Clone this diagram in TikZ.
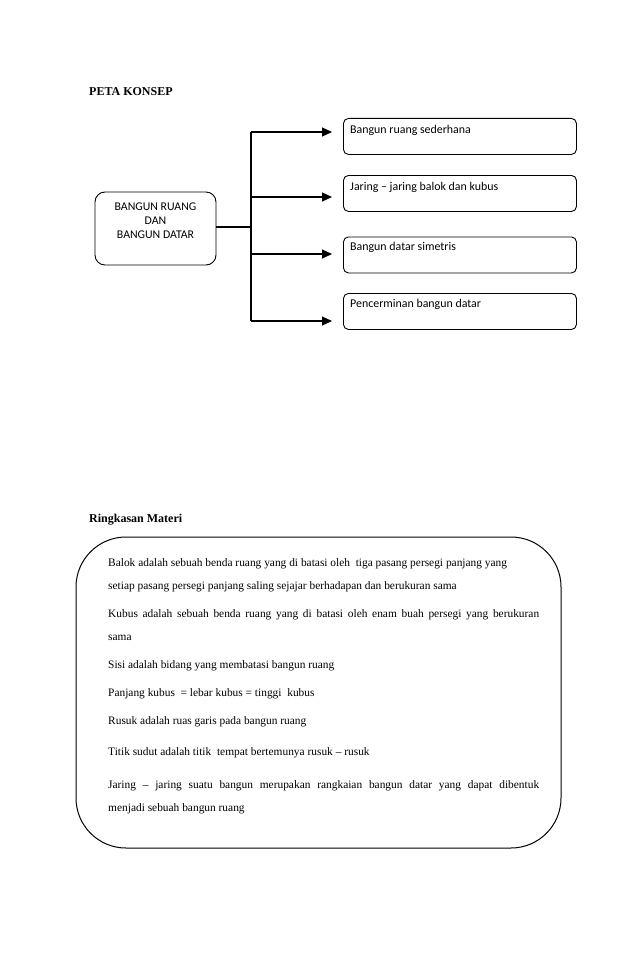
\documentclass[tikz,border=0pt]{standalone}
\usepackage{fontspec}
\setmainfont{Liberation Serif}
\newfontfamily\carlitofam{Carlito}
\usetikzlibrary{arrows.meta}
\tikzset{
  rbox/.style={draw, line width=0.9pt, rounded corners=5pt, minimum width=233pt, minimum height=36pt, inner sep=0pt},
  rtext/.style={font=\carlitofam\fontsize{11.9}{13}\selectfont, inner sep=0pt},
  conn/.style={line width=1.1pt},
  arr/.style={line width=1.1pt, -{Triangle[length=10pt,width=9pt]}},
  body/.style={font=\fontsize{11.4}{13}\selectfont, inner sep=0pt, anchor=base west},
  head/.style={font=\bfseries\fontsize{12}{14}\selectfont, inner sep=0pt, anchor=base west}
}
\newcommand{\jline}[1]{\makebox[431pt][s]{#1}}
\begin{document}
\begin{tikzpicture}[x=1pt,y=-1pt]
\useasboundingbox (0,0) rectangle (638,979);
\node[head] (h1) at (89,96) {PETA KONSEP};
% left box
\node[draw, line width=0.9pt, rounded corners=10pt, minimum width=121pt, minimum height=73pt, inner sep=0pt] (L) at (155.5,228.5) {};
\node[font=\carlitofam\fontsize{11.8}{14}\selectfont, align=center, inner sep=0pt] (Lt) at (155.5,221) {BANGUN RUANG\\DAN\\BANGUN DATAR};
% right boxes
\node[rbox, anchor=north west] (b1) at (343,118) {};
\node[rbox, anchor=north west] (b2) at (343,175) {};
\node[rbox, anchor=north west] (b3) at (343,236.5) {};
\node[rbox, anchor=north west] (b4) at (343,293) {};
\node[rtext, anchor=base west] (t1) at (350,133) {Bangun ruang sederhana};
\node[rtext, anchor=base west] (t2) at (350,190) {Jaring – jaring balok dan kubus};
\node[rtext, anchor=base west] (t3) at (350,250) {Bangun datar simetris};
\node[rtext, anchor=base west] (t4) at (350,307) {Pencerminan bangun datar};
% connectors
\coordinate (j) at (251,227);
\coordinate (j1) at (251,132);
\coordinate (j2) at (251,197);
\coordinate (j3) at (251,254);
\coordinate (j4) at (251,321);
\coordinate (e1) at (332,132);
\coordinate (e2) at (332,197);
\coordinate (e3) at (332,254);
\coordinate (e4) at (332,321);
\draw[conn] (L.east |- j) -- (j);
\draw[conn] (j1) -- (j4);
\draw[arr] (j1) -- (e1);
\draw[arr] (j2) -- (e2);
\draw[arr] (j3) -- (e3);
\draw[arr] (j4) -- (e4);
% summary
\node[head] (h2) at (89,522) {Ringkasan Materi};
\draw[line width=1pt, rounded corners=50pt] (76,537) rectangle (561,848);
\node[body] (p1) at (108,566) {Balok adalah sebuah benda ruang yang di batasi oleh\ \ tiga pasang persegi panjang yang};
\node[body] (p2) at (108,589) {setiap pasang persegi panjang saling sejajar berhadapan dan berukuran sama};
\node[body] (p3) at (108,617) {\jline{Kubus adalah sebuah benda ruang yang di batasi oleh enam buah persegi yang berukuran}};
\node[body] (p4) at (108,640) {sama};
\node[body] (p5) at (108,668) {Sisi adalah bidang yang membatasi bangun ruang};
\node[body] (p6) at (108,696) {Panjang kubus \ = lebar kubus = tinggi \ kubus};
\node[body] (p7) at (108,724) {Rusuk adalah ruas garis pada bangun ruang};
\node[body] (p8) at (108,755) {Titik sudut adalah titik\ \ tempat bertemunya rusuk – rusuk};
\node[body] (p9) at (108,788) {\jline{Jaring – jaring suatu bangun merupakan rangkaian bangun datar yang dapat dibentuk}};
\node[body] (p10) at (108,811) {menjadi sebuah bangun ruang};
\end{tikzpicture}
\end{document}
